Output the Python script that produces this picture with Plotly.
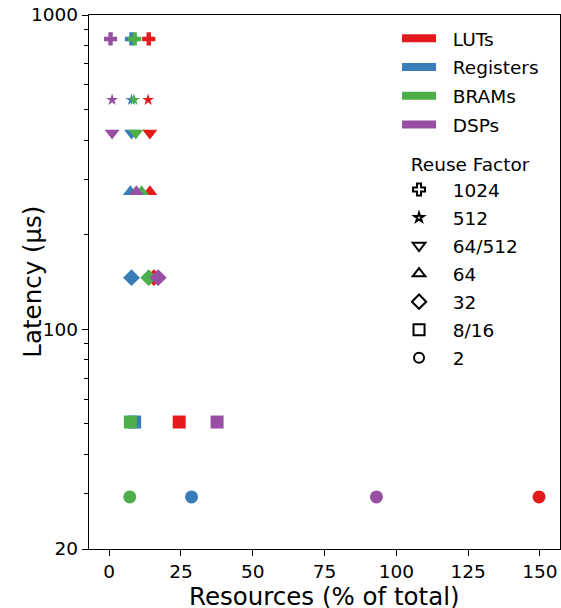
import plotly.graph_objects as go
import math

# Data
reuse_factors = ["1024", "512", "64/512", "64", "32", "8/16", "2"]
latency_us = [839, 537, 421, 274, 146, 50.7, 29.3]
luts = [13.8, 13.6, 14.2, 14.2, 15.6, 24.4, 149.7]
registers = [7.8, 7.8, 7.8, 7.4, 7.8, 8.9, 28.7]
brams = [8.9, 8.7, 9.3, 11.3, 13.8, 7.4, 7.2]
dsps = [0.5, 1.05, 1.05, 9.5, 17.1, 37.6, 93.1]

resources = ["LUTs", "Registers", "BRAMs", "DSPs"]
res_values = [luts, registers, brams, dsps]
colors = ["#e41a1c", "#377eb8", "#4daf4a", "#984ea3"]

symbols = ["cross", "star", "triangle-down", "triangle-up", "diamond", "square", "circle"]
sizes = [11, 9, 13, 13, 13, 13, 13]
legend_sizes = [10, 7, 11, 11, 11, 11, 10]

x_ticks = [0, 25, 50, 75, 100, 125, 150]
y_ticks = [20, 100, 1000]
y_minor = [30, 40, 50, 60, 70, 80, 90, 200, 300, 400, 500, 600, 700, 800, 900]

FONT = "DejaVu Sans"
TICK = 18.5
LEG = 18.5
TITLE = 24.5
PAD = "\u00a0\u00a0"

fig = go.Figure()

# data points: one trace per resource and reuse factor
for j in range(len(reuse_factors)):
    for name, vals, col in zip(resources, res_values, colors):
        fig.add_trace(go.Scatter(
            x=[vals[j]], y=[latency_us[j]], mode="markers",
            marker=dict(symbol=symbols[j], size=sizes[j], color=col, line=dict(width=0)),
            showlegend=False, hoverinfo="x+y", name=name,
        ))

# legend 1: resources
for name, col in zip(resources, colors):
    fig.add_trace(go.Scatter(
        x=[None], y=[None], mode="lines", name=PAD + name,
        line=dict(color=col, width=8), legend="legend", legendgroup="res_" + name,
    ))

# legend 2: reuse factor
for rf, sym, sz in zip(reuse_factors, symbols, legend_sizes):
    fig.add_trace(go.Scatter(
        x=[None], y=[None], mode="markers", name=PAD + rf,
        marker=dict(symbol=sym + "-open", size=sz, color="black", line=dict(width=2, color="black")),
        legend="legend2", legendgroup="rf_" + rf,
    ))

fig.update_layout(
    width=561, height=608,
    margin=dict(l=89, r=1, t=15, b=59),
    plot_bgcolor="white", paper_bgcolor="white",
    font=dict(family=FONT, size=TICK, color="black"),
    legend=dict(
        x=0.654, y=0.991, xanchor="left", yanchor="top",
        bgcolor="rgba(255,255,255,0)", borderwidth=0,
        font=dict(family=FONT, size=LEG, color="black"),
        itemwidth=34, tracegroupgap=1.7,
    ),
    legend2=dict(
        x=0.654, y=0.753, xanchor="left", yanchor="top",
        bgcolor="rgba(255,255,255,0)", borderwidth=0,
        font=dict(family=FONT, size=LEG, color="black"),
        title=dict(text="\u00a0\u00a0Reuse Factor", font=dict(family=FONT, size=LEG, color="black")),
        itemwidth=34, tracegroupgap=1,
    ),
    annotations=[
        dict(
            text="Latency (μs)", xref="paper", yref="paper", x=-0.1217, y=0.5,
            xanchor="center", yanchor="middle", textangle=-90, showarrow=False,
            font=dict(family=FONT, size=TITLE, color="black"),
        ),
        dict(
            text="Resources (% of total)", xref="paper", yref="paper", x=0.5, y=0,
            xanchor="center", yanchor="middle", yshift=-47, showarrow=False,
            font=dict(family=FONT, size=TITLE, color="black"),
        ),
    ],
)

fig.update_xaxes(
    range=[-7, 157], tickmode="array", tickvals=x_ticks,
    ticks="outside", ticklen=6, tickwidth=1.3, tickcolor="black",
    showline=True, linecolor="black", linewidth=1.3, mirror=True,
    showgrid=False, zeroline=False, automargin=False, ticklabeloverflow="allow",
    tickfont=dict(family=FONT, size=TICK, color="black"),
)
fig.update_yaxes(
    type="log", range=[math.log10(20), 3], tickmode="array", tickvals=y_ticks,
    ticktext=[str(v) for v in y_ticks],
    ticks="outside", ticklen=6, tickwidth=1.3, tickcolor="black",
    minor=dict(tickmode="array", tickvals=y_minor, ticks="outside", ticklen=3.5, tickwidth=1, tickcolor="black", showgrid=False),
    showline=True, linecolor="black", linewidth=1.3, mirror=True,
    showgrid=False, zeroline=False, automargin=False, ticklabeloverflow="allow",
    tickfont=dict(family=FONT, size=TICK, color="black"),
)

fig.write_html(
    "out.html",
    config={"displayModeBar": False},
    post_script="document.body.style.margin='0';document.body.style.overflow='hidden';",
)
